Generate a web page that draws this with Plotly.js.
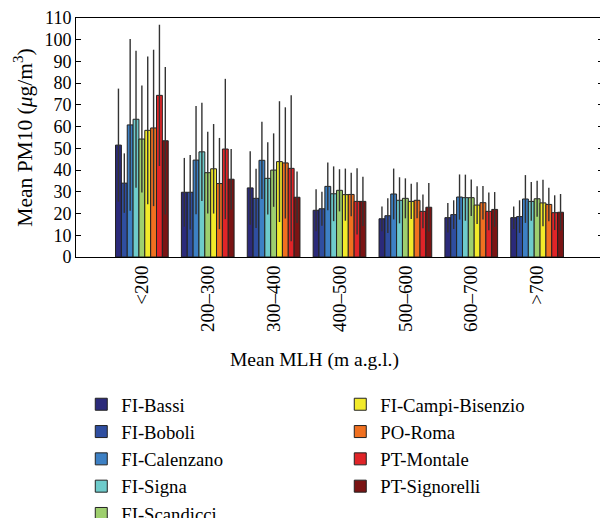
<!DOCTYPE html>
<html>
<head>
<meta charset="utf-8">
<script src="https://cdn.plot.ly/plotly-3.0.1.min.js"></script>
<style>
html, body { margin: 0; padding: 0; overflow: hidden; background: #fff; }
#chart { width: 606px; height: 518px; }
</style>
</head>
<body>
<div id="chart"></div>
<script>
// Categories (Mean MLH classes)
const categories = ["<200", "200–300", "300–400", "400–500", "500–600", "600–700", ">700"];

// Station names
const stations = ["FI-Bassi", "FI-Boboli", "FI-Calenzano", "FI-Signa", "FI-Scandicci",
                  "FI-Campi-Bisenzio", "PO-Roma", "PT-Montale", "PT-Signorelli"];

// Mean PM10 per station, per MLH class
const bassi      = [51.5, 29.8, 31.8, 21.5, 17.6, 18.1, 18.1];
const boboli     = [34.0, 29.8, 27.0, 22.2, 19.0, 19.5, 18.6];
const calenzano  = [60.8, 44.6, 44.5, 32.5, 29.0, 27.6, 26.7];
const signa      = [63.4, 48.4, 36.2, 29.1, 26.1, 27.3, 25.6];
const scandicci  = [54.3, 38.8, 40.0, 30.7, 27.0, 27.3, 26.8];
const campi      = [58.3, 40.6, 43.9, 28.7, 25.6, 23.9, 24.9];
const roma       = [59.4, 33.8, 43.3, 28.8, 26.1, 25.0, 24.2];
const montale    = [74.4, 49.7, 40.8, 25.6, 21.0, 21.0, 20.4];
const signorelli = [53.5, 35.8, 27.5, 25.6, 22.9, 21.9, 20.6];

// Standard deviations (error bars)
const bassiSd      = [26.0, 15.8, 16.9, 9.7, 5.7, 6.8, 5.2];
const boboliSd     = [13.7, 17.2, 13.6, 7.8, 8.0, 6.6, 7.5];
const calenzanoSd  = [39.5, 24.9, 17.8, 11.0, 11.7, 10.4, 11.0];
const signaSd      = [31.5, 22.6, 16.6, 12.6, 10.6, 10.6, 8.9];
const scandicciSd  = [24.6, 18.8, 16.9, 9.7, 9.2, 8.4, 8.3];
const campiSd      = [34.0, 20.6, 27.8, 12.0, 8.1, 8.7, 10.7];
const romaSd       = [36.0, 21.0, 25.6, 10.0, 8.3, 7.7, 7.7];
const montaleSd    = [32.5, 32.3, 33.6, 15.3, 7.8, 8.7, 8.0];
const signorelliSd = [33.9, 13.9, 11.8, 11.3, 11.2, 8.0, 8.4];

const yTicks = [0, 10, 20, 30, 40, 50, 60, 70, 80, 90, 100, 110];

const values = [bassi, boboli, calenzano, signa, scandicci, campi, roma, montale, signorelli];
const sds = [bassiSd, boboliSd, calenzanoSd, signaSd, scandicciSd, campiSd, romaSd, montaleSd, signorelliSd];
const colors = ["#2b2a7a", "#2f4ea0", "#3d80c4", "#6ecbcb", "#9ecf6e",
                "#f2ea2a", "#f07020", "#e02428", "#7a1414"];
// legend order arranged column-wise in two columns
const ranks = [1, 3, 5, 7, 9, 2, 4, 6, 8];

const font = "Liberation Serif, Times New Roman, serif";

const traces = stations.map((name, i) => ({
  type: "bar",
  name: name,
  x: categories,
  y: values[i],
  legendrank: ranks[i],
  marker: { color: colors[i], line: { color: "#222", width: 1 } },
  error_y: { type: "data", array: sds[i], visible: true, color: "#333", thickness: 1.4, width: 0 }
}));

const layout = {
  width: 606,
  height: 518,
  margin: { l: 76, r: 3, t: 18, b: 261, autoexpand: false },
  paper_bgcolor: "#fff",
  plot_bgcolor: "#fff",
  font: { family: font, size: 18, color: "#000" },
  barmode: "group",
  bargap: 0.2,
  bargroupgap: 0,
  showlegend: true,
  legend: {
    orientation: "h",
    x: 0.01, xanchor: "left",
    y: -0.538, yanchor: "top",
    entrywidth: 214,
    entrywidthmode: "pixels",
    font: { family: font, size: 18.7, color: "#000" },
    traceorder: "normal"
  },
  xaxis: {
    type: "category",
    range: [-1, 7],
    showline: true, linecolor: "#000", linewidth: 1, mirror: true,
    ticks: "",
    tickangle: -90,
    tickfont: { family: font, size: 19 },
    showgrid: false, zeroline: false
  },
  xaxis2: {
    overlaying: "x",
    side: "top",
    type: "linear",
    range: [-1, 7],
    tickvals: [0, 1, 2, 3, 4, 5, 6],
    ticks: "inside", ticklen: 5, tickcolor: "#000",
    showticklabels: false, showline: false, showgrid: false, zeroline: false
  },
  yaxis: {
    range: [0, 110],
    tickvals: yTicks,
    ticks: "inside", ticklen: 5, tickcolor: "#000",
    showline: true, linecolor: "#000", linewidth: 1, mirror: "ticks",
    showgrid: false, zeroline: false,
    tickfont: { family: font, size: 18 },
    title: { text: "Mean PM10 (<i>μ</i>g/m<sup>3</sup>)", font: { family: font, size: 21.5 }, standoff: 5 }
  },
  annotations: [{
    text: "Mean MLH (m a.g.l.)",
    xref: "paper", yref: "paper",
    x: 0.452, y: -0.431,
    xanchor: "center", yanchor: "middle",
    showarrow: false,
    font: { family: font, size: 19.5, color: "#000" }
  }]
};

Plotly.newPlot("chart", traces, layout, { displayModeBar: false, staticPlot: true });
</script>
</body>
</html>
